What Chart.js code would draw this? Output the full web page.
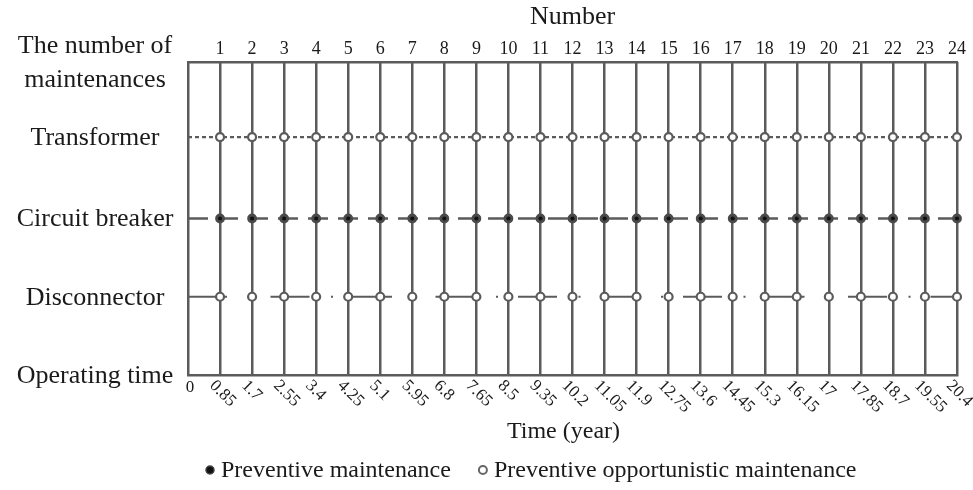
<!DOCTYPE html>
<html>
<head>
<meta charset="utf-8">
<script src="https://cdn.jsdelivr.net/npm/chart.js@4"></script>
<style>
  html, body { margin: 0; background: #fff; }
</style>
</head>
<body>
<canvas id="chart" width="973" height="490"></canvas>
<script>
// --- DATA ---
const tickTimes = [0, 0.85, 1.7, 2.55, 3.4, 4.25, 5.1, 5.95, 6.8, 7.65, 8.5, 9.35, 10.2,
  11.05, 11.9, 12.75, 13.6, 14.45, 15.3, 16.15, 17, 17.85, 18.7, 19.55, 20.4];
const tickLabels = ['0', '0.85', '1.7', '2.55', '3.4', '4.25', '5.1', '5.95', '6.8', '7.65', '8.5', '9.35', '10.2',
  '11.05', '11.9', '12.75', '13.6', '14.45', '15.3', '16.15', '17', '17.85', '18.7', '19.55', '20.4'];
const maintenanceNumbers = ['', '1', '2', '3', '4', '5', '6', '7', '8', '9', '10', '11', '12',
  '13', '14', '15', '16', '17', '18', '19', '20', '21', '22', '23', '24'];

// maintenance times for each component (years)
const transformerTimes = [0.85, 1.7, 2.55, 3.4, 4.25, 5.1, 5.95, 6.8, 7.65, 8.5, 9.35, 10.2,
  11.05, 11.9, 12.75, 13.6, 14.45, 15.3, 16.15, 17, 17.85, 18.7, 19.55, 20.4];
const breakerTimes = [0.85, 1.7, 2.55, 3.4, 4.25, 5.1, 5.95, 6.8, 7.65, 8.5, 9.35, 10.2,
  11.05, 11.9, 12.75, 13.6, 14.45, 15.3, 16.15, 17, 17.85, 18.7, 19.55, 20.4];
const disconnectorTimes = [0.85, 1.7, 2.55, 3.4, 4.25, 5.1, 5.95, 6.8, 7.65, 8.5, 9.35, 10.2,
  11.05, 11.9, 12.75, 13.6, 14.45, 15.3, 16.15, 17, 17.85, 18.7, 19.55, 20.4];

const rowLabels = ['Operating time', 'Disconnector', 'Circuit breaker', 'Transformer', ['The number of', 'maintenances']];
const rowLevels = [0, 1, 2, 3.04, 4];

const xTitle = 'Time (year)';
const legendLabels = ['Preventive maintenance', 'Preventive opportunistic maintenance'];

// --- STYLE ---
const lineColor = '#5b5b5b';
const textColor = '#1a1a1a';
const serif = '"Liberation Serif", "Times New Roman", serif';

function rowData(times, level) {
  return [{ x: 0, y: level }, ...times.map(t => ({ x: t, y: level }))];
}

function openRow(label, times, level, dash) {
  return {
    label: label,
    data: rowData(times, level),
    borderColor: lineColor,
    borderWidth: 2.2,
    borderDash: dash,
    pointRadius: c => c.dataIndex === 0 ? 0 : 4,
    pointBackgroundColor: '#fff',
    pointBorderColor: lineColor,
    pointBorderWidth: 2.2,
    clip: false
  };
}

const datasets = [
  openRow('Transformer', transformerTimes, rowLevels[3], [4, 3]),
  {
    label: 'Circuit breaker',
    data: rowData(breakerTimes, rowLevels[2]),
    borderColor: lineColor,
    borderWidth: 2.4,
    borderDash: [20, 10],
    pointRadius: c => c.dataIndex === 0 ? 0 : 3.5,
    pointBackgroundColor: '#111',
    pointBorderColor: '#4a4a4a',
    pointBorderWidth: 2.8,
    clip: false
  },
  openRow('Disconnector', disconnectorTimes, rowLevels[1], [39, 21.5, 2, 20])
];

function setTicks(scale) {
  scale.ticks = tickTimes.map(v => ({ value: v }));
}

// row names, slanted time labels, axis title and the marker legend
const sideLabels = {
  id: 'sideLabels',
  afterDraw(chart) {
    const { ctx, chartArea, scales: { x, y } } = chart;
    ctx.save();
    ctx.fillStyle = textColor;
    ctx.textBaseline = 'middle';
    ctx.textAlign = 'center';
    ctx.font = '26px ' + serif;
    const cx = chartArea.left - 93;
    rowLabels.forEach((lab, i) => {
      const py = y.getPixelForValue(rowLevels[i]);
      if (Array.isArray(lab)) {
        ctx.fillText(lab[0], cx, py - 16);
        ctx.fillText(lab[1], cx, py + 18);
      } else {
        ctx.fillText(lab, cx, py + 1);
      }
    });

    ctx.font = '17px ' + serif;
    tickTimes.forEach((t, i) => {
      const px = x.getPixelForValue(t);
      if (i === 0) {
        ctx.textAlign = 'center';
        ctx.fillText(tickLabels[i], px + 2, x.top + 13);
        return;
      }
      ctx.save();
      ctx.translate(px - 8, x.top + 8);
      ctx.rotate(Math.PI / 4);
      ctx.textAlign = 'left';
      ctx.fillText(tickLabels[i], 0, 0);
      ctx.restore();
    });

    // axis title
    ctx.font = '24px ' + serif;
    ctx.textAlign = 'center';
    ctx.fillText(xTitle, (chartArea.left + chartArea.right) / 2 - 9, x.top + 57);

    // legend
    ctx.textAlign = 'left';
    const gap = 28, markGap = 15;
    let lx = chartArea.left + 18;
    const ly = chart.height - 20;
    legendLabels.forEach((t, i) => {
      ctx.beginPath();
      ctx.arc(lx + 4, ly, 4, 0, Math.PI * 2);
      ctx.fillStyle = i === 0 ? '#111' : '#fff';
      ctx.fill();
      ctx.lineWidth = i === 0 ? 1.5 : 2;
      ctx.strokeStyle = i === 0 ? '#444' : '#666';
      ctx.stroke();
      ctx.fillStyle = textColor;
      ctx.fillText(t, lx + markGap, ly + 1);
      lx += markGap + ctx.measureText(t).width + gap;
    });
    ctx.restore();
  }
};

const ctx = document.getElementById('chart').getContext('2d');
const chart = new Chart(ctx, {
  type: 'line',
  data: { datasets: datasets },
  options: {
    responsive: false,
    animation: false,
    layout: { padding: { left: 188, right: 16, top: 0, bottom: 34 } },
    plugins: {
      tooltip: { enabled: false },
      legend: { display: false }
    },
    scales: {
      x: {
        type: 'linear',
        position: 'bottom',
        min: 0,
        max: 20.4,
        afterBuildTicks: setTicks,
        afterFit: s => { s.height = 81; },
        ticks: { display: false },
        grid: { color: lineColor, lineWidth: 2.5, drawTicks: false },
        border: { display: true, color: lineColor, width: 2.5 }
      },
      x2: {
        type: 'linear',
        position: 'top',
        min: 0,
        max: 20.4,
        afterBuildTicks: setTicks,
        afterFit: s => { s.height = 62; },
        ticks: {
          color: textColor,
          font: { family: serif, size: 18 },
          padding: 2,
          autoSkip: false,
          maxRotation: 0,
          callback: (v, i) => maintenanceNumbers[i]
        },
        grid: { display: false, drawTicks: false },
        border: { display: true, color: lineColor, width: 2.5 },
        title: {
          display: true,
          text: 'Number',
          color: textColor,
          font: { family: serif, size: 26 },
          padding: { top: 2, bottom: 0 }
        }
      },
      y: { type: 'linear', min: 0, max: 4, display: false }
    }
  },
  plugins: [sideLabels]
});
</script>
</body>
</html>
